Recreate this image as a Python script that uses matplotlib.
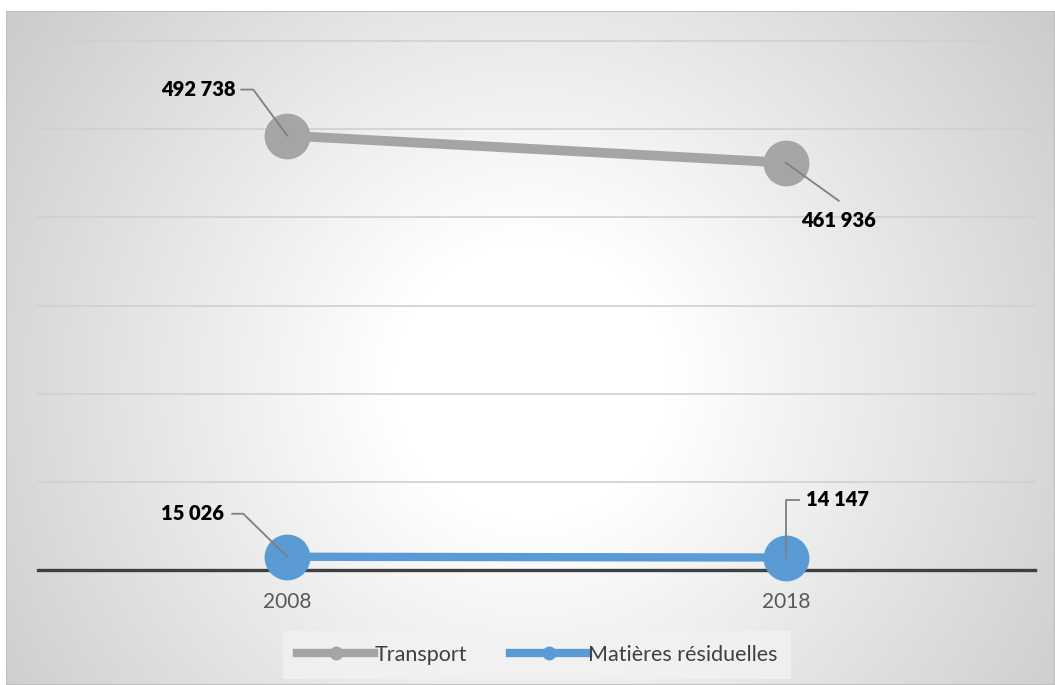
import numpy as np
import matplotlib
matplotlib.use("Agg")
import matplotlib.pyplot as plt
from matplotlib.lines import Line2D
from matplotlib.patches import Rectangle

plt.rcParams['font.family'] = ['Lato', 'DejaVu Sans']

years = ["2008", "2018"]
transport = [492738, 461936]
residuelles = [15026, 14147]
series_names = ["Transport", "Matières résiduelles"]
label_t = ["492 738", "461 936"]
label_r = ["15 026", "14 147"]
yticks = [0, 100000, 200000, 300000, 400000, 500000, 600000]

GRAY = "#A5A5A5"
BLUE = "#5B9BD5"

W, H = 1055, 685
fig = plt.figure(figsize=(W / 100, H / 100), dpi=100)
fig.patch.set_facecolor("white")

# background chart area with radial gradient
bg = fig.add_axes([6 / W, 0, 1 - 6 / W, 1 - 11 / H])
bg.set_axis_off()
yy, xx = np.mgrid[0:674, 0:1049]
cx, cy = 525, 370
d = np.sqrt((xx - cx) ** 2 + (yy - cy) ** 2)
val = 1 - 0.21 * np.clip((d - 140) / 520, 0, 1)
img = np.dstack([val, val, val])
bg.imshow(img, aspect="auto", extent=[0, 1, 0, 1], origin="upper", interpolation="bilinear")
bg.set_xlim(0, 1)
bg.set_ylim(0, 1)
bg.add_patch(Rectangle((0, 0), 1, 1, transform=bg.transAxes, fill=False,
                       edgecolor="#bfbfbf", lw=1.5))

ax = fig.add_axes([38 / W, 115 / H, (1035 - 38) / W, (644 - 115) / H])
ax.set_facecolor("none")
x = np.arange(len(years))
ax.set_xlim(-0.5, len(years) - 0.5)
ax.set_ylim(0, 600000)
for s in ax.spines.values():
    s.set_visible(False)
for t in yticks[1:]:
    ax.axhline(t, color="#d0d0d0", lw=1.2, zorder=1, clip_on=False)
ax.axhline(0, color="#404040", lw=2.4, zorder=2, clip_on=False)
ax.set_yticks([])
ax.set_xticks(x)
ax.set_xticklabels(years, fontsize=15, color="#595959")
ax.tick_params(axis="x", length=0, pad=16)

ax.plot(x, transport, color=GRAY, lw=7, marker="o", ms=32, zorder=3,
        solid_capstyle="butt", clip_on=False)
ax.plot(x, residuelles, color=BLUE, lw=6, marker="o", ms=32, zorder=4,
        solid_capstyle="butt", clip_on=False)

fig.canvas.draw()

def leader(xv, yv, offs, text, toff, ha, va):
    px, py = ax.transData.transform((xv, yv))
    pts = [(px + ox, py + oy) for ox, oy in offs]
    xs = [p[0] for p in pts]
    ys = [p[1] for p in pts]
    line = Line2D(xs, ys, color="#7f7f7f", lw=1.3, transform=None, zorder=6)
    fig.add_artist(line)
    fig.text((px + toff[0]) / W, (py + toff[1]) / H, text, ha=ha, va=va,
             fontsize=14.5, fontweight="heavy", color="black", zorder=7)

leader(x[0], transport[0], [(0, 0), (-34, 46), (-46, 46)], label_t[0], (-52, 46), "right", "center")
leader(x[1], transport[1], [(0, 0), (53, -38)], label_t[1], (53, -58), "center", "center")
leader(x[0], residuelles[0], [(0, 0), (-44, 43), (-55, 43)], label_r[0], (-63, 43), "right", "center")
leader(x[1], residuelles[1], [(0, 0), (0, 58), (13, 58)], label_r[1], (20, 58), "left", "center")

handles = [Line2D([], [], color=GRAY, lw=6, marker="o", ms=9),
           Line2D([], [], color=BLUE, lw=6, marker="o", ms=9)]
leg = fig.legend(handles, series_names, loc="center", bbox_to_anchor=(537 / W, 1 - 655 / H),
                 ncol=2, frameon=True, fontsize=15.5, handlelength=3.6, handletextpad=0.0,
                 columnspacing=2.0, numpoints=1, borderpad=0.35)
leg.get_frame().set_facecolor("#f2f2f2")
leg.get_frame().set_alpha(0.8)
leg.get_frame().set_edgecolor("none")
leg.get_frame().set_boxstyle("square")
for t in leg.get_texts():
    t.set_color("#404040")

fig.savefig("out.png", dpi=100)
